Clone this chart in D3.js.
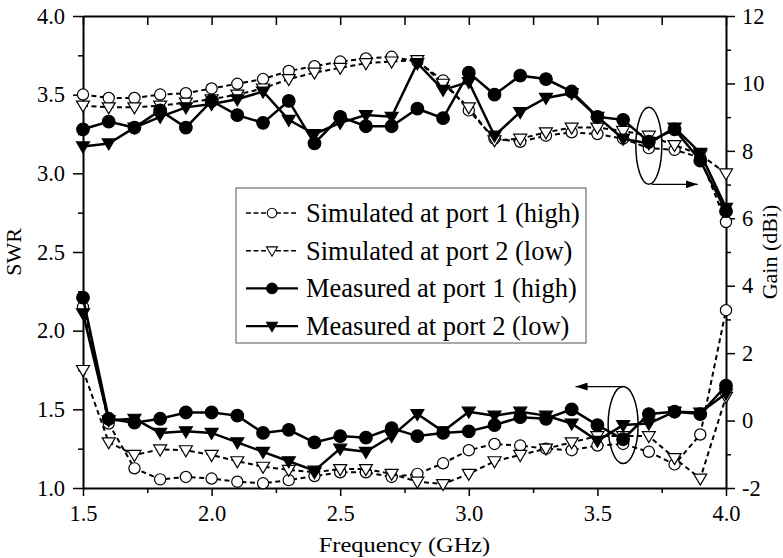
<!DOCTYPE html>
<html>
<head>
<meta charset="utf-8">
<script src="https://cdn.jsdelivr.net/npm/d3@7"></script>
<style>
body { margin: 0; background: #fff; }
svg { font-family: "Liberation Serif", "Times New Roman", serif; }
</style>
</head>
<body>
<svg width="783" height="558"></svg>
<script>
// frequency points (GHz)
var freq = [1.5, 1.6, 1.7, 1.8, 1.9, 2.0, 2.1, 2.2, 2.3, 2.4, 2.5, 2.6, 2.7,
	2.8, 2.9, 3.0, 3.1, 3.2, 3.3, 3.4, 3.5, 3.6, 3.7, 3.8, 3.9, 4.0];

// SWR (left axis)
var swrSim1 = [2.15, 1.41, 1.125, 1.055, 1.07, 1.06, 1.04, 1.03, 1.05, 1.076, 1.10, 1.10, 1.07,
	1.09, 1.157, 1.24, 1.28, 1.27, 1.25, 1.24, 1.27, 1.28, 1.23, 1.15, 1.34, 2.13];
var swrSim2 = [1.75, 1.29, 1.21, 1.245, 1.24, 1.21, 1.17, 1.135, 1.115, 1.10, 1.12, 1.12, 1.09,
	1.04, 1.025, 1.09, 1.17, 1.21, 1.25, 1.29, 1.33, 1.33, 1.33, 1.19, 1.06, 1.58];
var swrMeas1 = [2.21, 1.44, 1.415, 1.44, 1.48, 1.48, 1.46, 1.35, 1.37, 1.29, 1.33, 1.32, 1.38,
	1.33, 1.35, 1.36, 1.40, 1.45, 1.44, 1.50, 1.40, 1.31, 1.47, 1.485, 1.47, 1.65];
var swrMeas2 = [2.11, 1.43, 1.44, 1.35, 1.36, 1.35, 1.29, 1.23, 1.17, 1.11, 1.25, 1.23, 1.33,
	1.47, 1.36, 1.485, 1.46, 1.485, 1.46, 1.41, 1.30, 1.40, 1.41, 1.485, 1.48, 1.60];

// Gain in dBi (right axis)
var gainSim1 = [9.67, 9.57, 9.57, 9.67, 9.71, 9.85, 9.99, 10.13, 10.37, 10.51, 10.65, 10.74, 10.79,
	10.65, 10.09, 9.20, 8.36, 8.27, 8.45, 8.55, 8.50, 8.36, 8.08, 8.03, 7.80, 5.89];
var gainSim2 = [9.34, 9.29, 9.29, 9.34, 9.43, 9.53, 9.67, 9.85, 10.13, 10.32, 10.46, 10.60, 10.65,
	10.69, 9.99, 9.29, 8.31, 8.36, 8.55, 8.69, 8.69, 8.59, 8.45, 8.17, 7.89, 7.33];
var gainMeas1 = [8.64, 8.87, 8.69, 9.20, 8.69, 9.48, 9.06, 8.83, 9.48, 8.22, 9.01, 8.73, 8.73,
	9.25, 8.97, 10.32, 9.67, 10.23, 10.13, 9.76, 9.01, 8.92, 8.27, 8.64, 7.71, 6.21];
var gainMeas2 = [8.13, 8.22, 8.69, 9.01, 9.29, 9.39, 9.53, 9.76, 8.92, 8.50, 8.83, 9.06, 9.01,
	10.60, 9.81, 10.04, 8.45, 9.15, 9.57, 9.71, 9.01, 8.36, 8.22, 8.69, 7.94, 6.31];

// ticks
var xTicks = [1.5, 2.0, 2.5, 3.0, 3.5, 4.0];
var xMinor = [1.75, 2.25, 2.75, 3.25, 3.75];
var swrTicks = [1.0, 1.5, 2.0, 2.5, 3.0, 3.5, 4.0];
var swrMinor = [1.25, 1.75, 2.25, 2.75, 3.25, 3.75];
var gainTicks = [-2, 0, 2, 4, 6, 8, 10, 12];
var gainMinor = [-1, 1, 3, 5, 7, 9, 11];

var legendLabels = ["Simulated at port 1 (high)", "Simulated at port 2 (low)",
	"Measured at port 1 (high)", "Measured at port 2 (low)"];

// ellipse call-outs: which curve group points to which axis
var callGain = {f: 3.7, v: 8.15, arrowTo: 3.89};
var callSwr = {f: 3.6, v: 1.40, arrowTo: 3.415};

var margin = {top: 16, right: 57, bottom: 70, left: 83},
	width = 783 - margin.left - margin.right,
	height = 558 - margin.top - margin.bottom;

var svg = d3.select("svg");
var g = svg.append("g")
	.attr("transform", "translate(" + margin.left + "," + margin.top + ")");

var x = d3.scaleLinear().domain([1.5, 4.0]).range([0, width]);
var ySwr = d3.scaleLinear().domain([1.0, 4.0]).range([height, 0]);
var yGain = d3.scaleLinear().domain([-2, 12]).range([height, 0]);

function styleAxis(sel, fontSize) {
	sel.select(".domain").attr("stroke-width", 2);
	sel.selectAll(".tick line").attr("stroke-width", 1.5);
	sel.selectAll(".tick text")
		.attr("fill", "#000")
		.style("font-family", "Liberation Serif, Times New Roman, serif")
		.style("font-size", fontSize + "px");
}

// minor ticks first
g.append("g").attr("transform", "translate(0," + height + ")")
	.call(d3.axisBottom(x).tickValues(xMinor).tickSize(5).tickFormat(""))
	.call(function(s) { s.select(".domain").remove(); s.selectAll("line").attr("stroke-width", 1.5); });
g.append("g")
	.call(d3.axisLeft(ySwr).tickValues(swrMinor).tickSize(5).tickFormat(""))
	.call(function(s) { s.select(".domain").remove(); s.selectAll("line").attr("stroke-width", 1.5); });
g.append("g").attr("transform", "translate(" + width + ",0)")
	.call(d3.axisRight(yGain).tickValues(gainMinor).tickSize(5).tickFormat(""))
	.call(function(s) { s.select(".domain").remove(); s.selectAll("line").attr("stroke-width", 1.5); });

// top axis, ticks pointing in
g.append("g")
	.call(d3.axisTop(x).tickValues(xTicks.concat(xMinor)).tickSizeInner(-9).tickSizeOuter(0).tickFormat(""))
	.call(function(s) { styleAxis(s, 22); });

// bottom axis
g.append("g").attr("transform", "translate(0," + height + ")")
	.call(d3.axisBottom(x).tickValues(xTicks).tickSizeInner(8).tickSizeOuter(0)
		.tickPadding(9).tickFormat(d3.format(".1f")))
	.call(function(s) { styleAxis(s, 22.5); });

// left axis (SWR)
g.append("g")
	.call(d3.axisLeft(ySwr).tickValues(swrTicks).tickSizeInner(10).tickSizeOuter(0)
		.tickPadding(8).tickFormat(d3.format(".1f")))
	.call(function(s) { styleAxis(s, 22.5); });

// right axis (Gain)
g.append("g").attr("transform", "translate(" + width + ",0)")
	.call(d3.axisRight(yGain).tickValues(gainTicks).tickSizeInner(9).tickSizeOuter(0)
		.tickPadding(7).tickFormat(function(d) { return String(d); }))
	.call(function(s) { styleAxis(s, 22.5); });

// axis titles
g.append("text")
	.attr("transform", "translate(" + (width / 2) + "," + (height + 64) + ") scale(1.11,1)")
	.attr("text-anchor", "middle").style("font-size", "22px")
	.text("Frequency (GHz)");
g.append("text")
	.attr("transform", "translate(" + (-62) + "," + (height / 2) + ") rotate(-90)")
	.attr("text-anchor", "middle").style("font-size", "22px")
	.text("SWR");
g.append("text")
	.attr("transform", "translate(" + (width + 51) + "," + (height / 2) + ") rotate(-90)")
	.attr("text-anchor", "middle").style("font-size", "22px")
	.text("Gain (dBi)");

// series
var triDown = "M-6.5,-4.5L6.5,-4.5L0,6.5Z";
var series = [
	{vals: swrSim1, y: ySwr, dashed: true, marker: "circle", filled: false},
	{vals: swrSim2, y: ySwr, dashed: true, marker: "tri", filled: false},
	{vals: gainSim1, y: yGain, dashed: true, marker: "circle", filled: false},
	{vals: gainSim2, y: yGain, dashed: true, marker: "tri", filled: false},
	{vals: swrMeas1, y: ySwr, dashed: false, marker: "circle", filled: true},
	{vals: swrMeas2, y: ySwr, dashed: false, marker: "tri", filled: true},
	{vals: gainMeas1, y: yGain, dashed: false, marker: "circle", filled: true},
	{vals: gainMeas2, y: yGain, dashed: false, marker: "tri", filled: true}
];

function drawMarker(sel, s, r) {
	if (s.marker === "circle") {
		sel.append("circle").attr("r", r)
			.attr("fill", s.filled ? "#000" : "#fff")
			.attr("stroke", "#000").attr("stroke-width", 1.2);
	} else {
		sel.append("path").attr("d", triDown)
			.attr("fill", s.filled ? "#000" : "#fff")
			.attr("stroke", "#000").attr("stroke-width", 1.2);
	}
}

series.forEach(function(s) {
	var pts = freq.map(function(f, i) { return [f, s.vals[i]]; });
	var line = d3.line()
		.x(function(d) { return x(d[0]); })
		.y(function(d) { return s.y(d[1]); });
	g.append("path")
		.datum(pts)
		.attr("d", line)
		.attr("fill", "none")
		.attr("stroke", "#000")
		.attr("stroke-width", s.dashed ? 2 : 2.5)
		.attr("stroke-dasharray", s.dashed ? "5,3.5" : null);
	g.append("g").selectAll("g")
		.data(pts)
		.enter()
		.append("g")
		.attr("transform", function(d) { return "translate(" + x(d[0]) + "," + s.y(d[1]) + ")"; })
		.each(function() { drawMarker(d3.select(this), s, s.filled ? 6.3 : 5.6); });
});

// call-out ellipses and arrows
svg.append("defs").append("marker")
	.attr("id", "head")
	.attr("viewBox", "0 0 12 8")
	.attr("refX", 12).attr("refY", 4)
	.attr("markerWidth", 12).attr("markerHeight", 8)
	.attr("markerUnits", "userSpaceOnUse")
	.attr("orient", "auto")
	.append("path").attr("d", "M0,0L12,4L0,8Z").attr("fill", "#000");

var eG = {cx: x(callGain.f), cy: yGain(callGain.v), rx: 13, ry: 38.5};
g.append("ellipse").attr("cx", eG.cx).attr("cy", eG.cy).attr("rx", eG.rx).attr("ry", eG.ry)
	.attr("fill", "none").attr("stroke", "#000").attr("stroke-width", 1.5);
g.append("line")
	.attr("x1", eG.cx + 3).attr("y1", eG.cy + eG.ry)
	.attr("x2", x(callGain.arrowTo)).attr("y2", eG.cy + eG.ry)
	.attr("stroke", "#000").attr("stroke-width", 1.2)
	.attr("marker-end", "url(#head)");

var eS = {cx: x(callSwr.f), cy: ySwr(callSwr.v), rx: 15, ry: 38.5};
g.append("ellipse").attr("cx", eS.cx).attr("cy", eS.cy).attr("rx", eS.rx).attr("ry", eS.ry)
	.attr("fill", "none").attr("stroke", "#000").attr("stroke-width", 1.5);
g.append("line")
	.attr("x1", eS.cx).attr("y1", eS.cy - eS.ry)
	.attr("x2", x(callSwr.arrowTo)).attr("y2", eS.cy - eS.ry)
	.attr("stroke", "#000").attr("stroke-width", 1.2)
	.attr("marker-end", "url(#head)");

// legend
var legend = svg.append("g").attr("transform", "translate(236,188)");
legend.append("rect")
	.attr("width", 350).attr("height", 155)
	.attr("fill", "#fff").attr("stroke", "#555").attr("stroke-width", 1);

var legendSeries = [series[0], series[1], series[4], series[5]];
legendLabels.forEach(function(lab, i) {
	var s = legendSeries[i];
	var row = legend.append("g").attr("transform", "translate(0," + (25 + i * 37.7) + ")");
	row.append("line")
		.attr("x1", 10).attr("x2", 62).attr("y1", 0).attr("y2", 0)
		.attr("stroke", "#000")
		.attr("stroke-width", s.dashed ? 1.6 : 2.2)
		.attr("stroke-dasharray", s.dashed ? "5,2.5" : null);
	var m = row.append("g").attr("transform", "translate(36,0) scale(0.85)");
	drawMarker(m, s, s.filled ? 6.3 : 5.6);
	row.append("text")
		.attr("x", 70).attr("y", 9)
		.style("font-size", "26.5px")
		.text(lab);
});
</script>
</body>
</html>
